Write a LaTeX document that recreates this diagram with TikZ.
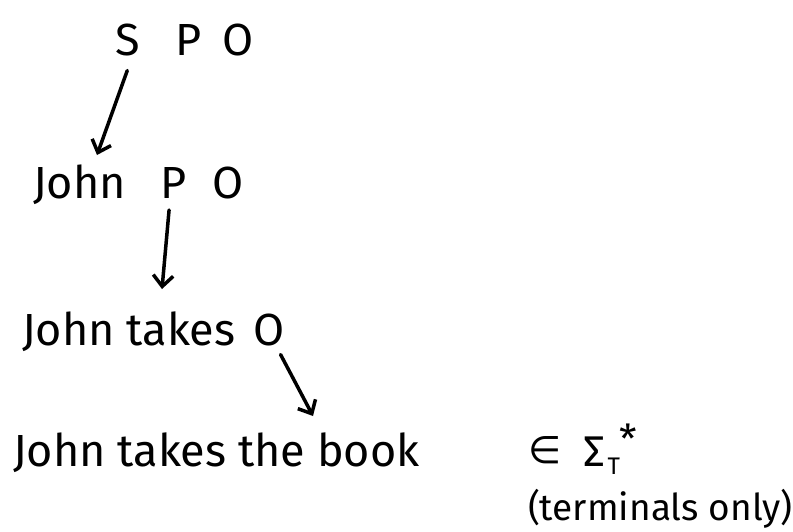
\documentclass[tikz,border=0pt]{standalone}
\usepackage{fontspec}
\setmainfont{Fira Sans}
\newfontfamily\symfont{DejaVu Sans}
\usetikzlibrary{arrows.meta,calc}
\begin{document}
\begin{tikzpicture}[x=1pt,y=-1pt,
  txt/.style={anchor=base west,inner sep=0pt,outer sep=0pt,font=\fontsize{45}{54}\selectfont},
  small/.style={anchor=base west,inner sep=0pt,outer sep=0pt,font=\fontsize{37}{44}\selectfont},
  arr/.style={line width=3.5pt,line cap=round,line join=round,-{Straight Barb[length=11pt,width=20pt,line width=3.5pt]}}]
\useasboundingbox (0,0) rectangle (793,531);
% line 1
\node[txt] (s1) at (115,55) {S};
\node[txt] (p1) at (175,55) {P};
\node[txt] (o1) at (222,55) {O};
% line 2
\node[txt] (john2) at (33,198) {John};
\node[txt] (p2) at (160,198) {P};
\node[txt] (o2) at (212,198) {O};
% line 3
\node[txt] (jt3) at (22,345) {John takes};
\node[txt] (o3) at (253,345) {O};
% line 4
\node[txt] (jt4) at (13,466) {John takes the book};
\node[anchor=base west,inner sep=0pt,outer sep=0pt] (sig) at (528,463)
  {\fontsize{38}{44}\symfont ∈\hspace{22pt}\fontsize{43}{48}\selectfont\rmfamily\raisebox{-3pt}{Σ}\hspace{3pt}\raisebox{-11pt}{\fontsize{24}{28}\selectfont T}\hspace{-1pt}\raisebox{10pt}{\fontsize{40}{44}\selectfont *}};
\node[small] (term) at (528,520) {(terminals only)};
% arrows
\coordinate (e1) at (97,155);
\coordinate (e2) at (162,289);
\coordinate (e3) at (313,416);
\draw[arr] ($(s1.south)+(0,15)$) -- (e1);
\draw[arr] ($(p2.south)+(-4,12)$) -- (e2);
\draw[arr] ($(o3.south)+(12,9)$) -- (e3);
\end{tikzpicture}
\end{document}
